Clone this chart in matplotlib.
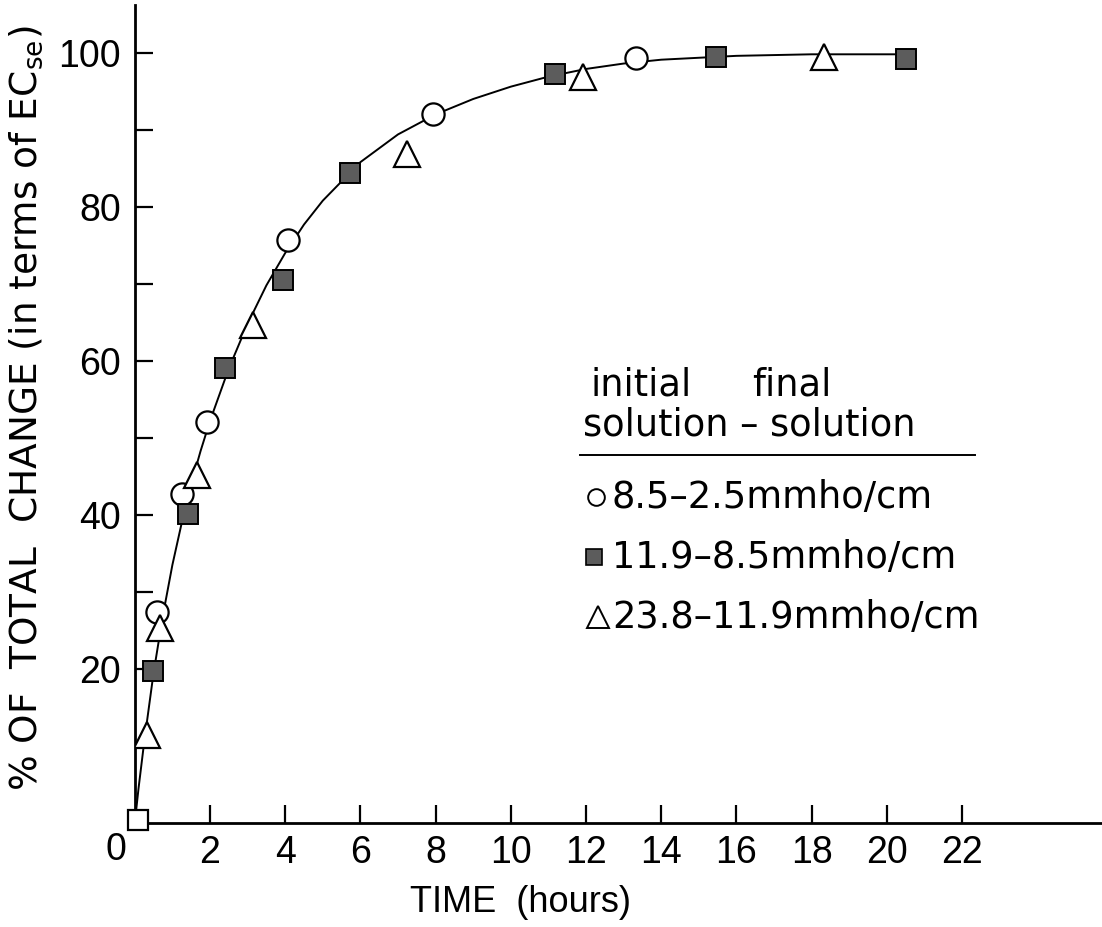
import numpy as np
import matplotlib
matplotlib.use("Agg")
import matplotlib.pyplot as plt
from matplotlib.lines import Line2D

plt.rcParams['font.family'] = ['Liberation Sans', 'DejaVu Sans']

# data (time in hours, % of total change)
t_circle = [0.59, 1.26, 1.92, 4.08, 7.93, 13.32]
y_circle = [27.4, 42.7, 52.0, 75.7, 92.0, 99.3]

t_square = [0.48, 1.41, 2.40, 3.95, 5.72, 11.17, 15.46, 20.5]
y_square = [19.7, 40.1, 59.1, 70.5, 84.4, 97.3, 99.5, 99.2]

t_tri = [0.32, 0.67, 1.65, 3.15, 7.24, 11.92, 18.33]
y_tri = [11.4, 25.3, 45.2, 64.7, 86.8, 96.9, 99.5]

t_origin = [0.08]
y_origin = [0.4]

# fitted curve as drawn
t_curve = [0, 0.1, 0.25, 0.5, 0.75, 1.0, 1.25, 1.5, 1.75, 2.0, 2.5, 3.0, 3.5, 4.0,
           4.5, 5.0, 6.0, 7.0, 8.0, 9.0, 10.0, 11.0, 12.0, 13.0, 14.0, 16.0, 18.0, 20.5]
y_curve = [0, 4.5, 10.5, 19.5, 27.0, 33.5, 39.0, 44.0, 48.3, 52.2, 59.0, 64.8, 69.8, 74.0,
           77.7, 80.8, 85.8, 89.4, 92.0, 94.0, 95.6, 96.9, 97.9, 98.6, 99.1, 99.6, 99.8, 99.8]

legend_labels = ['8.5\u20132.5mmho/cm', '11.9\u20138.5mmho/cm', '23.8\u201311.9mmho/cm']

fig = plt.figure(figsize=(11.02, 9.27), dpi=100)
ax = fig.add_axes([0.1223, 0.1122, 0.8777, 0.8824])

ax.plot(t_curve, y_curve, color='black', lw=1.4, zorder=1)

sq_face = '#5c5c5c'
ax.plot(t_circle, y_circle, 'o', ms=16, mfc='white', mec='black', mew=1.6, zorder=3)
ax.plot(t_square, y_square, 's', ms=14, mfc=sq_face, mec='black', mew=1.4, zorder=3)
ax.plot(t_tri, y_tri, '^', ms=19, mfc='white', mec='black', mew=1.6, zorder=3)
ax.plot(t_origin, y_origin, 's', ms=14, mfc='white', mec='black', mew=1.6, zorder=3, clip_on=False)

ax.set_xlim(0, 25.72)
ax.set_ylim(0, 106.2)

for s in ['top', 'right']:
    ax.spines[s].set_visible(False)
for s in ['left', 'bottom']:
    ax.spines[s].set_linewidth(2)

ax.set_xticks(np.arange(2, 23, 2))
ax.set_xticklabels([str(v) for v in range(2, 23, 2)])
ax.set_yticks(np.arange(10, 101, 10))
ax.set_yticklabels(['' if v % 20 else str(v) for v in range(10, 101, 10)])
ax.tick_params(direction='in', length=13, width=1.6, labelsize=27, pad=9)
ax.tick_params(axis='y', pad=10)

# shared zero at the corner
fig.text(116 / 1102, 1 - 850 / 927, '0', fontsize=27, ha='center', va='center')

fig.text(520 / 1102, 1 - 903 / 927, 'TIME  (hours)', fontsize=26, ha='center', va='center')
fig.text(26 / 1102, 1 - 408 / 927, '% OF  TOTAL  CHANGE (in terms of EC$_{\\rm se}$)',
         fontsize=27, rotation=90, ha='center', va='center', family='DejaVu Sans')

# hand-drawn style key
fs = 26.5
kf = 'DejaVu Sans'
fig.text(590 / 1102, 1 - 385 / 927, 'initial', fontsize=fs, va='center', family=kf)
fig.text(752 / 1102, 1 - 385 / 927, 'final', fontsize=fs, va='center', family=kf)
fig.text(583 / 1102, 1 - 425 / 927, 'solution \u2013 solution', fontsize=fs, va='center', family=kf)
fig.add_artist(Line2D([580 / 1102, 975 / 1102], [1 - 455 / 927, 1 - 455 / 927],
                      color='black', lw=1.4))

key_y = [497, 557, 617]
key_mk = [dict(marker='o', ms=12, mfc='white', mec='black', mew=1.4),
          dict(marker='s', ms=11, mfc=sq_face, mec='black', mew=1.2),
          dict(marker='^', ms=16, mfc='white', mec='black', mew=1.4)]
key_x = [596, 594, 598]
for lab, yy, xx, mk in zip(legend_labels, key_y, key_x, key_mk):
    fig.add_artist(Line2D([xx / 1102], [1 - yy / 927], ls='none', **mk))
    fig.text(612 / 1102, 1 - yy / 927, lab, fontsize=fs, va='center', family=kf)

fig.savefig('out.png', dpi=100)
